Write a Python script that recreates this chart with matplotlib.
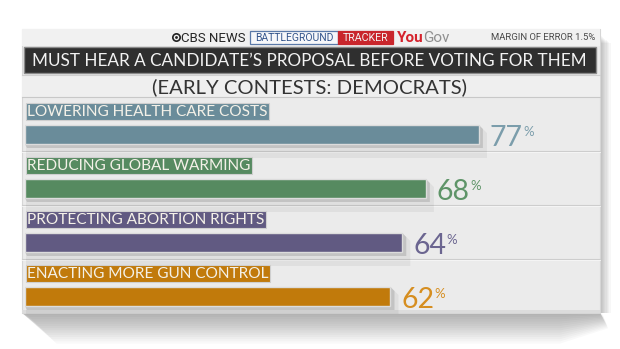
import matplotlib
matplotlib.use("Agg")
import matplotlib.pyplot as plt
from matplotlib.patches import Rectangle, Polygon, Circle
import numpy as np

# ---- data ----
categories = ["LOWERING HEALTH CARE COSTS", "REDUCING GLOBAL WARMING",
              "PROTECTING ABORTION RIGHTS", "ENACTING MORE GUN CONTROL"]
values = [77, 68, 64, 62]
bar_colors = ["#6a8c9a", "#568a60", "#615a82", "#c17a0b"]
value_colors = ["#7b9dab", "#5e9468", "#6b6590", "#d68e20"]
title = "MUST HEAR A CANDIDATE\u2019S PROPOSAL BEFORE VOTING FOR THEM"
subtitle = "(EARLY CONTESTS: DEMOCRATS)"
margin_text = "MARGIN OF ERROR 1.5%"

W, H = 620, 349
fig = plt.figure(figsize=(W / 100, H / 100), dpi=100)
fig.patch.set_facecolor("white")

# background axes in pixel coordinates
bg = fig.add_axes([0, 0, 1, 1])
bg.set_xlim(0, W)
bg.set_ylim(H, 0)
bg.axis("off")

FONT = "Lato"

# panel shadows (soft, fading downwards with a diagonal left edge)
for k in range(14):
    d = 2 + k * 2.2
    bg.add_patch(Polygon([(22, 313), (600, 313), (603 + k * 0.4, 313 + d * 0.5),
                          (560, 313 + d), (22 + d + 4, 313 + d)],
                         closed=True, fc="black", ec="none", alpha=0.024, zorder=0))
for k in range(8):
    bg.add_patch(Rectangle((600, 36 + k), 1.5 + k * 1.3, 277 - k, fc="black", ec="none",
                           alpha=0.03, zorder=0))

# panel
bg.add_patch(Rectangle((22, 29), 578, 284, fc="#ebebeb", ec="#d6d6d6", lw=0.8, zorder=1))
bg.add_patch(Rectangle((22, 29), 578, 17, fc="#f1f1f1", ec="none", zorder=1))
# title bar
bg.add_patch(Rectangle((24, 47), 572, 26, fc="#2f2f2f", ec="#8a8a8a", lw=1.0, zorder=2))
bg.text(309, 60.5, title, ha="center", va="center", color="#f2f2f2",
        fontsize=12.3, family=FONT, zorder=3)
# subtitle row
bg.add_patch(Rectangle((22, 75), 578, 22, fc="#efefef", ec="none", zorder=1))
bg.plot([22, 600], [75, 75], color="#cfcfcf", lw=0.8, zorder=2)
bg.plot([22, 600], [97, 97], color="#c8c8c8", lw=0.8, zorder=2)
bg.text(309.5, 87, subtitle, ha="center", va="center", color="#333333",
        fontsize=14.6, family=FONT, zorder=3)

# row separators and bottom strip
for yy in [151, 205, 259]:
    bg.plot([22, 600], [yy, yy], color="#cdcdcd", lw=0.8, zorder=2)
    bg.plot([22, 600], [yy + 1, yy + 1], color="#f7f7f7", lw=0.6, zorder=2)
bg.add_patch(Rectangle((22, 310), 578, 3, fc="#dcdcdc", ec="none", zorder=2))

# header
bg.add_patch(Circle((176.5, 37.5), 4.5, fc="#222222", ec="none", zorder=3))
bg.add_patch(Circle((176.5, 37.5), 2.8, fc="#f1f1f1", ec="none", zorder=3))
bg.add_patch(Circle((176.5, 37.5), 1.4, fc="#222222", ec="none", zorder=3))
bg.text(181, 38, "CBS NEWS", ha="left", va="center", color="#262626",
        fontsize=9.5, family="Roboto", zorder=3)
bg.add_patch(Rectangle((250, 31), 88, 13, fc="#f6f7fa", ec="#5a79a8", lw=0.9, zorder=3))
bg.text(294, 38, "BATTLEGROUND", ha="center", va="center", color="#34558c",
        fontsize=7.5, family="Roboto", zorder=4)
bg.add_patch(Rectangle((338, 31), 55, 13, fc="#c9262c", ec="#c9262c", lw=0.9, zorder=3))
bg.text(365.5, 38, "TRACKER", ha="center", va="center", color="#f3f3f3",
        fontsize=7.7, family="Roboto", zorder=4)
t_you = bg.text(397, 38, "You", ha="left", va="center", color="#d5232d",
                fontsize=11, family="Roboto", fontweight="bold", zorder=3)
bg.annotate("Gov", xy=(1, 0), xycoords=t_you, ha="left", va="bottom",
            color="#8f8f8f", fontsize=11, family="Roboto", zorder=3)
bg.text(595, 38, margin_text, ha="right", va="center", color="#4a4a4a",
        fontsize=6.8, family="Roboto", zorder=3)

# bar axes: 0% at px 25, 5.895 px per percent; rows of 54 px from y=98
x0_px, px_per = 25.0, 5.895
top_px, row_px = 98.0, 54.0
bar_off = 36.5 / row_px
ax = fig.add_axes([x0_px / W, (H - (top_px + 4 * row_px)) / H,
                   (100 * px_per) / W, 4 * row_px / H])
ax.set_xlim(0, 100)
ax.set_ylim(4 - bar_off, -bar_off)
ax.axis("off")
ax.patch.set_alpha(0)

ypos = np.arange(len(values))
bh = 19 / row_px
u = 1 / px_per  # one pixel in x data
v = 1 / row_px  # one pixel in y data

# shadows under/right of bars
for i, (val, c) in enumerate(zip(values, bar_colors)):
    ax.add_patch(Polygon([(val, i - bh / 2), (val + 8 * u, i - bh / 2 + 8 * v),
                          (val + 8 * u, i + bh / 2 + 14 * v), (1 * u, i + bh / 2 + 14 * v),
                          (1 * u, i + bh / 2)],
                         closed=True, fc="black", ec="none", alpha=0.05, zorder=1))
    ax.add_patch(Polygon([(val, i - bh / 2), (val + 4 * u, i - bh / 2 + 4 * v),
                          (val + 4 * u, i + bh / 2 + 4 * v), (2 * u, i + bh / 2 + 4 * v),
                          (0, i + bh / 2)],
                         closed=True, fc="black", ec="none", alpha=0.12, zorder=1))

ax.barh(ypos, values, height=bh, color=bar_colors, edgecolor="#dcdcdc",
        linewidth=1.0, zorder=3)

for i, (lab, val, c, vc) in enumerate(zip(categories, values, bar_colors, value_colors)):
    ax.text(2.2 * u, i - 23 * v, lab, ha="left", va="center", color="#f4f1e8",
            fontsize=11.1, family=FONT, zorder=4,
            bbox=dict(boxstyle="square,pad=0.1", fc=c, ec="#cfcfcf", lw=0.8))
    t = ax.text(val + 11 * u, i + 11 * v, f"{val}", ha="left", va="baseline",
                color=vc, fontsize=20.5, family=FONT, zorder=4)
    ax.annotate("%", xy=(1, 0), xycoords=t, xytext=(0.1, 10.4),
                textcoords="offset points", ha="left", va="baseline", color=vc,
                fontsize=9.5, family=FONT, zorder=4)

fig.savefig("out.png", dpi=100, facecolor="white")
